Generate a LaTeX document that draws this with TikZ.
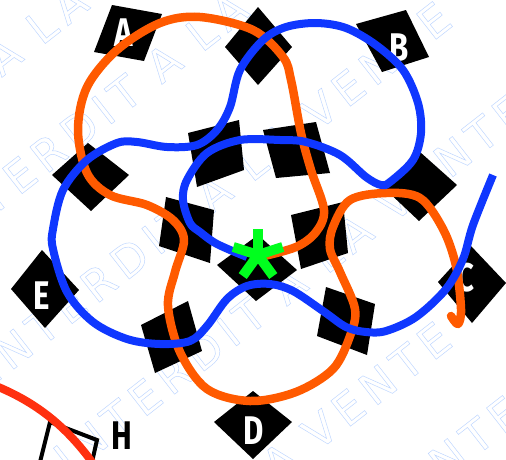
\documentclass[tikz,border=0pt]{standalone}
\usepackage{fontspec}
\setmainfont{DejaVu Sans}
\newfontfamily\wmfont{DejaVu Sans}[LetterSpace=16]
\newfontfamily\labfont{Fira Sans}[UprightFont=* Bold]
\definecolor{wmblue}{HTML}{BFD7FF}
\definecolor{orangeline}{HTML}{FF5A00}
\definecolor{blueline}{HTML}{0F37FF}
\definecolor{starcol}{HTML}{00FF1E}
\definecolor{redline}{HTML}{FF3010}
\newcommand{\wmtext}[1]{\special{pdf:code q 1 Tr 0.5 w 0.75 0.84 1 RG}#1\special{pdf:code 0 Tr Q}}
\tikzset{
  wm/.style={rotate=38,anchor=east,inner sep=0pt,font=\wmfont\fontsize{44}{44}\selectfont},
  blk/.style={fill=black,draw=none},
  lab/.style={text=white,inner sep=0pt,font=\labfont\fontsize{40}{40}\selectfont,xscale=.78},
  curve/.style={line width=#1,line cap=round,line join=round},
}
\begin{document}
\begin{tikzpicture}[x=1pt,y=-1pt]
\useasboundingbox (0,0) rectangle (506,459);
% watermark
\begin{scope}
\clip (0,0) rectangle (506,459);
\node[wm] (w0) at (235,-125) {\wmtext{INTERDIT A LA VENTE}};
\node[wm] (w1) at (395,-118) {\wmtext{INTERDIT A LA VENTE}};
\node[wm] (w2) at (445,12) {\wmtext{INTERDIT A LA VENTE}};
\node[wm] (w3) at (520,104) {\wmtext{INTERDIT A LA VENTE}};
\node[wm] (w4) at (445,332) {\wmtext{INTERDIT A LA VENTE}};
\node[wm] (w5) at (515,406) {\wmtext{INTERDIT A LA VENTE}};
\end{scope}
% black shapes
\fill[blk] (112,5)--(162,14)--(144,61)--(94,52)--cycle;
\fill[blk] (258,7)--(292,47)--(258,85)--(225,47)--cycle;
\fill[blk] (356,24)--(406,10)--(429,57)--(382,72)--cycle;
\fill[blk] (420,152)--(457,185)--(419,221)--(383,187)--cycle;
\fill[blk] (438,282)--(471,246)--(506,283)--(472,323)--cycle;
\fill[blk] (214,422)--(253,391)--(292,422)--(253,459)--cycle;
\fill[blk] (11,289)--(42,250)--(79,290)--(45,328)--cycle;
\fill[blk] (52,175)--(88,143)--(129,175)--(91,211)--cycle;
\fill[blk] (188,133)--(239,120)--(244,170)--(197,187)--cycle;
\fill[blk] (263,130)--(316,122)--(330,173)--(276,178)--cycle;
\fill[blk] (291,215)--(343,202)--(348,253)--(301,269)--cycle;
\fill[blk] (166,197)--(214,210)--(210,263)--(159,246)--cycle;
\fill[blk] (217,265)--(258,235)--(297,270)--(256,301)--cycle;
\fill[blk] (141,325)--(188,301)--(202,351)--(155,373)--cycle;
\fill[blk] (326,287)--(375,304)--(367,355)--(317,336)--cycle;
% labels
\node[lab] (la) at (124,33) {A};
\node[lab] (lb) at (399,48) {B};
\node[lab] (lc) at (465,278) {C};
\node[lab] (ld) at (254,431) {D};
\node[lab] (le) at (42,296) {E};
% bottom-left figure
\draw[line width=4pt,line join=miter] (40,462)--(50,422)--(97,440)--(92,462);
\draw[redline,line width=8pt] (-4,386) .. controls (35,402) and (65,425) .. (92,462);
\node[lab,text=black] (lh) at (122,436) {H};
% curves
\draw[orangeline,curve=8.5pt] plot[smooth,tension=0.55] coordinates {
 (260,257) (296,247) (316,232) (324,210) (311,170) (301,133) (291,80) (283,57) (253,30) (200,17) (160,23)
 (117,50) (87,87) (78,130) (87,173) (110,195) (147,205) (173,220) (184,240) (175,272) (168,306) (180,352) (207,389) (250,401)
 (296,392) (333,369) (350,336) (355,309) (340,272) (330,249) (333,227) (350,200) (386,193) (420,198) (443,229) (456,266) (461,309) (458,324) (451,316)};
\draw[blueline,curve=8pt,line cap=butt] plot[smooth,tension=0.55] coordinates {
 (493,175) (473,225) (463,259) (446,289) (416,317) (386,331) (366,332) (346,327) (323,311) (293,291) (270,284) (247,286) (227,299) (207,326) (190,341)
 (160,344) (127,339) (93,322) (67,292) (53,249) (53,229) (63,190) (87,160) (117,143) (137,142) (167,147) (197,145) (217,130) (230,107)
 (240,70) (263,40) (286,27) (316,23) (346,28) (376,45) (403,70) (418,103) (421,133) (413,160) (390,182) (381,185) (366,177) (340,155) (306,142) (280,140)
 (240,140) (207,153) (187,180) (183,200) (190,223) (200,232) (217,244) (247,257)};
% star
\foreach \a in {-90,-18,54,126,198}
  \draw[starcol,line width=10pt] (258,255) -- ++(\a:26);
\end{tikzpicture}
\end{document}
